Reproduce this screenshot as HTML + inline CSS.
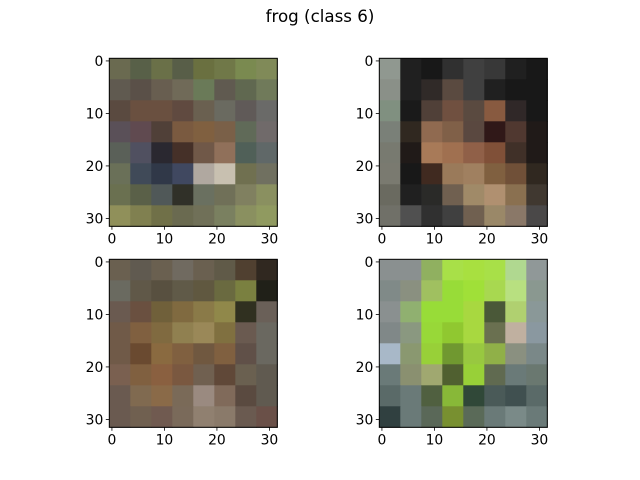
<!DOCTYPE html>
<html><head><meta charset="utf-8"><style>
body{margin:0;background:#fff;}
svg{display:block;font-family:"DejaVu Sans","Liberation Sans",sans-serif;}
</style></head><body>
<svg id="fig" width="640" height="480" viewBox="0 0 640 480">
<text x="320" y="22" text-anchor="middle" font-size="16.7" fill="#000">frog (class 6)</text>
</svg>
<script>
const tickValues = [0, 10, 20, 30];
const img1 = [
"6a6a50 586048 6a7048 585e48 6a7040 707848 7a8a50 808a58",
"605a50 5a5048 685e50 706a58 6a7a58 605a50 606850 707a5a",
"5a4a40 6a5040 6a5040 604a40 6a6050 6a6a60 605a58 6a6a68",
"5a5058 604a50 504038 7a5a40 806040 7a6048 606a58 706a6a",
"5a6058 505060 2a2830 453028 705848 90705a 506058 606868",
"6a7058 404a58 303848 404860 b0a8a0 c8c0b0 707050 707060",
"6a7050 5a6048 505858 303028 6a7060 707058 808060 8a9060",
"90905a 808050 707048 6a6a50 707058 7a8060 8a9060 909a60"];
const img2 = [
"909890 202020 181818 303030 404040 383838 202020 181818",
"8a9088 202020 302a28 5a4a40 404040 202020 181818 181818",
"809080 1a1a1a 504038 705040 5a4a40 885a40 302828 181818",
"7a8078 302820 906a50 806048 5a4840 301818 503830 201a18",
"787a70 201a18 a87a58 a07050 906048 805038 403028 201a18",
"7a7a70 181818 402a20 9a7a5a a08060 806040 705038 302820",
"6a6a60 202020 2a2a28 706050 a08a68 b09070 8a7050 403830",
"707068 505050 303030 404040 706050 9a8868 8a7868 4a4848"];
const img3 = [
"6a6050 605a50 6a6050 706a60 6a6050 605a48 504030 302820",
"6a6a60 605848 585040 605a48 605840 6a6a40 7a8040 202018",
"6a5a50 6a5040 70603a 806a40 8a7a48 90884a 303020 6a6058",
"705a48 806040 806a40 908050 9a8858 807040 6a5a50 6a6860",
"705a48 6a4a30 8a6a40 806040 705840 806040 605048 6a6860",
"7a6050 806040 8a6040 7a5840 706050 604838 6a6050 605a50",
"6a5a50 806a50 8a6a48 7a6a58 9a8a80 806a5a 5a4a40 605a50",
"6a5a50 706050 705a50 7a6a5a 908070 8a7a6a 6a5a50 6a5048"];
const img4 = [
"8a9090 8a9090 90b060 a8e048 a8e040 a8e048 b0d890 909898",
"808a88 8a9080 a0c060 98dc38 a0e038 a8d850 b8e080 8a9890",
"8a9090 90b070 98dc38 98dc38 a8d840 4a5838 b0d070 8a9898",
"808888 8a9880 98d838 90c830 a8d840 6a7050 c0b0a0 8a98a0",
"a8b8c8 8a9870 98d038 709830 98c840 90b048 8a9080 7a8888",
"6a7a78 8a9070 a0a870 506030 98d038 606a50 6a7a78 6a7870",
"5a6a68 6a7a78 506040 88b838 304838 4a5a58 405050 5a6a68",
"304040 6a7a78 5a6858 789030 5a6a58 6a7a78 7a8a88 6a7a78"];
const images = [img1, img2, img3, img4];
const NS = "http://www.w3.org/2000/svg";
const fig = document.getElementById("fig");
const boxes = [[109.3,58.3],[379.3,58.3],[109.3,259.3],[379.3,259.3]];
const W = 168, H = 168;
function mk(tag, attrs, parent){const e=document.createElementNS(NS,tag);for(const k in attrs)e.setAttribute(k,attrs[k]);parent.appendChild(e);return e;}
images.forEach((img, i) => {
  const [x0, y0] = boxes[i];
  const g = mk("g", {}, fig);
  
  
  const rows = img.map(r => r.split(" "));
  const n = rows.length, cw = W / rows[0].length, ch = H / n;
  rows.forEach((row, r) => row.forEach((c, k) => {
    const rc = mk("rect", {x:x0+k*cw, y:y0+r*ch, width:cw+0.5, height:ch+0.5, fill:"#"+c}, g);
    
    
  }));
  const fr = mk("rect", {x:x0, y:y0, width:W, height:H, fill:"none", stroke:"#000", "stroke-width":1}, g);
  
  
  const sx = v => x0 + (v + 0.5) * W / 32;
  const sy = v => y0 + (v + 0.5) * H / 32;
  tickValues.forEach(v => {
    mk("line", {x1:sx(v), x2:sx(v), y1:y0+H, y2:y0+H+3.5, stroke:"#000", "stroke-width":0.8}, g);
    const tx = mk("text", {x:sx(v), y:y0+H+17, "text-anchor":"middle", "font-size":"13.9", fill:"#000"}, g);
    tx.textContent = v;
    
    
    mk("line", {x1:x0-3.5, x2:x0, y1:sy(v), y2:sy(v), stroke:"#000", "stroke-width":0.8}, g);
    const ty = mk("text", {x:x0-6, y:sy(v)+5, "text-anchor":"end", "font-size":"13.9", fill:"#000"}, g);
    ty.textContent = v;
    
    
  });
});
</script>
</body></html>
